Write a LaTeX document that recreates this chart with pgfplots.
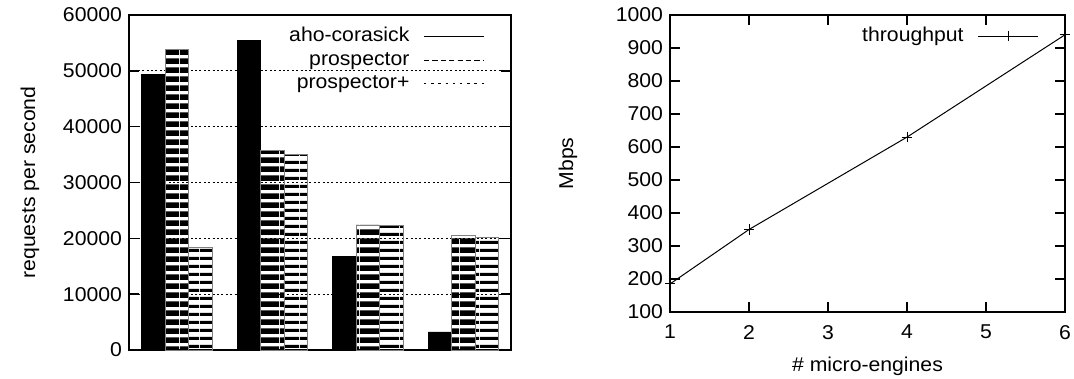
\documentclass[border=0pt]{standalone}
\usepackage{fontspec}
\setmainfont[FakeStretch=1.06]{Liberation Sans}
\usepackage{pgfplots}
\pgfplotsset{compat=1.18}
\usetikzlibrary{patterns}

\pgfdeclarepatternformonly{stripesA}{\pgfpointorigin}{\pgfqpoint{10pt}{4.6pt}}{\pgfqpoint{10pt}{4.6pt}}{%
  \pgfpathrectangle{\pgfpointorigin}{\pgfqpoint{10pt}{3.1pt}}\pgfusepath{fill}}
\pgfdeclarepatternformonly{stripesB}{\pgfpointorigin}{\pgfqpoint{10pt}{3.85pt}}{\pgfqpoint{10pt}{3.85pt}}{%
  \pgfpathrectangle{\pgfpointorigin}{\pgfqpoint{10pt}{1.6pt}}\pgfusepath{fill}}

\pgfplotsset{
  longline/.style={legend image code/.code={\draw[##1] (0pt,0pt) -- (30pt,0pt);}},
  longmark/.style={legend image code/.code={\draw[mark repeat=2, mark phase=2, ##1] plot coordinates {(0pt,0pt) (15pt,0pt) (30pt,0pt)};}},
  gpstyle/.style={
    scale only axis,
    tick align=inside,
    major tick length=5pt,
    axis line style={line width=0.7pt},
    every tick/.style={black, line width=0.7pt},
    /pgf/number format/assume math mode=true,
    /pgf/number format/1000 sep={},
    scaled y ticks=false,
    legend plot pos=right,
    legend style={draw=none, fill=none, legend cell align=right,
      at={(rel axis cs:1,1)}, anchor=north east, xshift=-10pt, yshift=-2pt,
      row sep=-0.3pt,
      /tikz/every odd column/.append style={column sep=5pt}},
  }
}

\begin{document}
\begin{tikzpicture}[font=\fontsize{10}{12}\selectfont]
\path[use as bounding box] (0,0) rectangle (537pt,-189.5pt);

% ---------------- left chart ----------------
\begin{axis}[gpstyle,
  at={(64.5pt,-175pt)}, anchor=south west,
  width=191pt, height=167.5pt,
  xmin=-0.5, xmax=3.5, ymin=0, ymax=60000,
  xtick=\empty,
  ytick={0,10000,20000,30000,40000,50000,60000},
  ymajorgrids,
  grid style={black, line width=0.5pt, dash pattern=on 1pt off 1.2pt},
  ylabel={requests per second},
  ylabel style={at={(rel axis cs:0,0.5)}, anchor=center, yshift=49.5pt},
]
\addplot[ybar, bar width=0.246, bar shift=-0.246, fill=black, draw=black, line width=0.3pt, forget plot]
  coordinates {(0,49400) (1,55400) (2,16800) (3,3250)};
\addplot[ybar, bar width=0.246, bar shift=0, pattern=stripesA, draw=black!50, line width=0.3pt, forget plot]
  coordinates {(0,53900) (1,35700) (2,22400) (3,20500)};
\addplot[ybar, bar width=0.246, bar shift=0.246, pattern=stripesB, draw=black!50, line width=0.3pt, forget plot]
  coordinates {(0,18400) (1,35000) (2,22300) (3,20100)};
\addlegendimage{black, solid, line width=0.6pt, longline}
\addlegendimage{black, line width=0.6pt, dash pattern=on 2.6pt off 1.6pt, longline}
\addlegendimage{black, line width=0.6pt, dash pattern=on 1.2pt off 2.4pt, longline}
\legend{aho-corasick, prospector, prospector+}
\end{axis}

% ---------------- right chart ----------------
\begin{axis}[gpstyle,
  at={(335pt,-156pt)}, anchor=south west,
  width=197.5pt, height=148.5pt,
  xmin=1, xmax=6, ymin=100, ymax=1000,
  xtick={1,2,3,4,5,6},
  ytick={100,200,300,400,500,600,700,800,900,1000},
  xticklabel style={yshift=-3pt},
  xlabel={\# micro-engines},
  ylabel={Mbps},
  ylabel style={at={(rel axis cs:0,0.5)}, anchor=center, yshift=51pt},
  xlabel style={at={(rel axis cs:0.5,0)}, anchor=center, yshift=-27pt},
]
\addplot[black, line width=0.5pt, mark=+, mark size=2.6pt, longmark]
  coordinates {(1,185) (2,350) (4,630) (6,940)};
\addlegendentry{throughput}
\end{axis}
\end{tikzpicture}
\end{document}
